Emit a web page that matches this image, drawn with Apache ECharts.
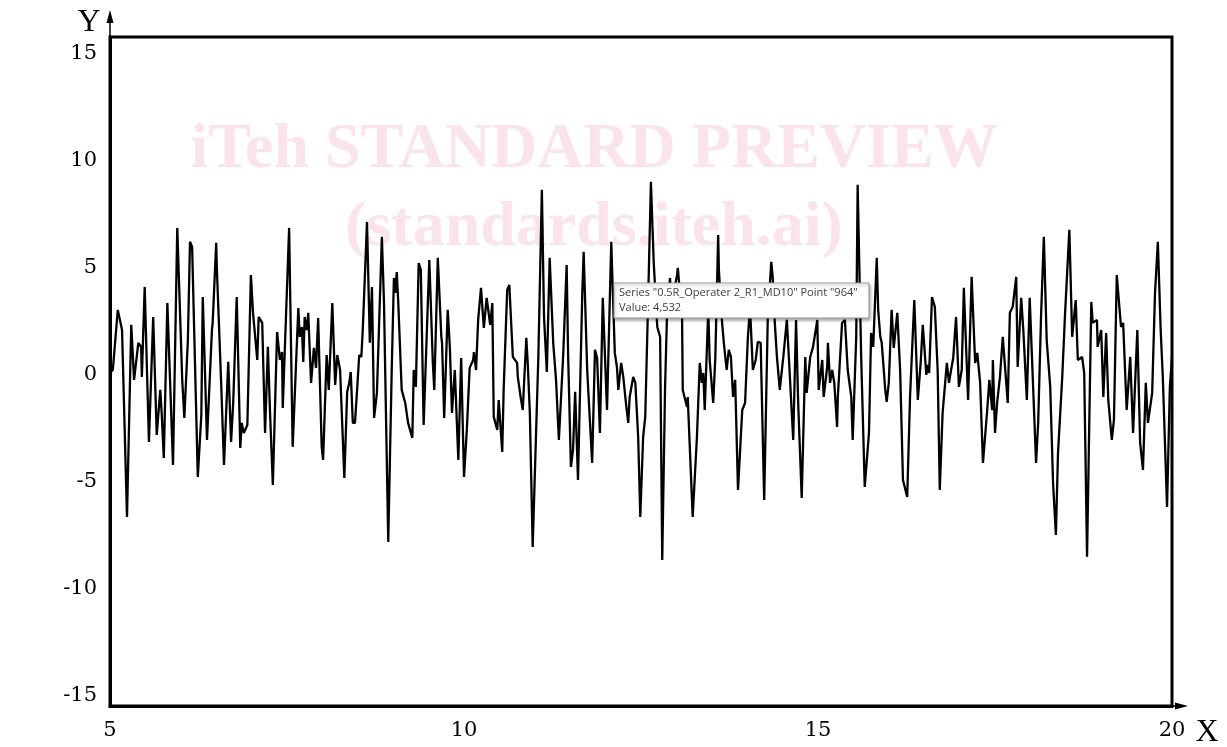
<!DOCTYPE html>
<html><head><meta charset="utf-8">
<script src="https://cdn.jsdelivr.net/npm/echarts@6/dist/echarts.min.js"></script>
<style>html,body{margin:0;padding:0;background:#fff}#c{width:1227px;height:747px}</style>
</head><body><div id="c"></div>
<script>
const xs = [5.01,5.04,5.11,5.17,5.24,5.30,5.34,5.40,5.44,5.45,5.49,5.55,5.61,5.66,5.71,5.73,5.76,5.81,5.89,5.95,6.02,6.05,6.10,6.13,6.16,6.24,6.29,6.31,
6.37,6.44,6.45,6.50,6.51,6.57,6.61,6.67,6.71,6.74,6.79,6.84,6.86,6.89,6.94,6.99,7.02,7.08,7.10,7.15,7.19,7.23,7.26,7.30,7.36,7.40,7.43,7.44,7.53,7.58,7.66,
7.68,7.71,7.73,7.75,7.78,7.80,7.84,7.88,7.91,7.94,7.99,8.01,8.06,8.09,8.14,8.18,8.21,8.25,8.31,8.35,8.38,8.40,8.43,8.46,8.49,8.52,8.55,8.57,8.63,8.67,8.70,8.73,8.77,8.84,8.87,8.93,8.98,9.01,
9.03,9.05,9.07,9.12,9.17,9.21,9.27,9.29,9.32,9.36,9.39,9.43,9.51,9.56,9.58,9.63,9.68,9.69,9.72,9.77,9.80,9.83,9.87,9.92,9.96,10.00,10.04,10.08,10.13,10.14,10.17,10.20,10.24,10.28,10.32,10.37,10.40,
10.42,10.47,10.49,10.54,10.56,10.61,10.64,10.69,10.75,10.76,10.80,10.83,10.88,10.90,10.93,10.97,11.05,11.10,11.13,11.17,11.21,11.26,11.30,11.34,11.40,11.45,11.47,11.51,11.54,11.57,11.61,11.67,
11.69,11.74,11.81,11.85,11.88,11.92,11.96,12.02,12.08,12.10,12.13,12.16,12.18,12.22,12.25,12.29,12.32,12.34,12.39,12.42,12.46,12.49,12.53,12.56,12.60,12.64,12.68,12.73,12.77,12.80,12.84,12.87,12.91,12.94,12.95,13.01,
13.02,13.08,13.09,13.15,13.16,13.22,13.23,13.29,13.33,13.36,13.38,13.40,13.45,13.47,13.52,13.55,13.59,13.60,13.64,13.67,13.71,13.74,13.77,13.80,13.83,13.87,13.93,13.97,14.01,14.04,14.08,14.12,14.15,14.19,14.24,14.29,14.34,14.36,
14.39,14.42,14.46,14.51,14.56,14.60,14.65,14.69,14.72,14.77,14.82,14.84,14.89,14.93,14.99,15.01,15.06,15.08,15.13,15.14,15.17,15.20,15.23,15.27,15.28,15.34,15.38,15.42,15.47,15.49,15.54,15.56,15.61,15.66,
15.69,15.72,15.75,15.78,15.83,15.85,15.88,15.90,15.95,15.97,16.00,16.04,16.07,16.12,16.16,16.20,16.26,16.30,16.36,16.41,16.45,16.48,16.53,16.55,16.57,16.61,16.65,16.69,16.72,16.76,16.82,16.85,16.88,16.91,16.95,16.99,17.03,17.06,
17.12,17.17,17.22,17.25,17.29,17.33,17.39,17.42,17.46,17.47,17.50,17.53,17.57,17.61,17.68,17.71,17.75,17.80,17.82,17.87,17.90,17.95,17.99,18.04,18.08,18.11,18.15,18.19,18.23,18.28,18.32,18.36,
18.39,18.45,18.49,18.55,18.59,18.64,18.67,18.73,18.76,18.80,18.86,18.88,18.94,18.95,19.00,19.03,19.07,19.10,19.15,19.18,19.22,19.28,19.31,19.36,19.41,19.45,19.51,19.55,19.59,19.63,19.66,19.72,19.76,19.80,19.84,19.87,19.93,19.97,20.00];
const ys = [0.14,0.23,3.04,2.10,-6.64,2.34,-0.23,1.50,1.31,-0.09,4.11,-3.13,2.71,-2.80,-0.70,-1.78,-3.88,3.36,-4.21,6.87,-0.23,-2.01,1.64,6.22,5.98,-4.77,-1.87,3.64,
-3.04,2.10,2.43,6.17,4.91,-0.37,-4.21,0.61,-3.13,-1.31,3.64,-3.41,-2.24,-2.71,-2.34,4.67,2.90,0.70,2.71,2.43,-2.71,1.31,-1.73,-5.14,2.01,0.70,1.07,-1.54,6.87,-3.36,3.13,
1.78,2.24,0.61,2.71,2.10,2.90,-0.37,1.26,0.33,2.66,-3.36,-3.97,0.93,-0.70,3.36,-0.47,0.93,0.23,-4.81,-0.79,-0.37,0.14,-2.24,-2.24,-0.70,0.93,0.84,2.10,7.15,1.50,4.11,-2.01,-0.84,6.45,3.36,-7.80,0.37,4.53,
3.83,4.81,3.50,-0.70,-1.31,-2.24,-2.94,0.23,-0.56,5.23,4.91,-2.34,5.37,0.56,-0.70,5.47,1.78,1.50,-2.01,3.04,1.31,-1.78,0.23,-3.97,0.79,-4.77,-2.57,0.33,0.70,1.07,0.23,2.57,4.07,2.20,3.60,2.34,3.36,
-1.96,-2.57,-1.17,-3.60,-0.70,3.97,4.21,0.84,0.56,-0.09,-1.03,-1.64,1.73,0.56,-1.78,-8.04,0.84,8.65,2.71,0.14,5.47,1.50,-0.23,-3.04,0.84,5.14,1.03,-4.30,-3.50,-0.79,-4.91,3.74,
5.75,0.23,-4.11,1.17,0.79,-2.71,3.60,-1.64,6.22,4.11,1.03,0.37,-0.70,0.56,-0.09,-1.40,-2.24,-1.03,-0.09,-0.37,-2.90,-6.64,-2.90,-1.96,3.36,9.02,5.23,2.24,1.78,-8.65,-0.56,3.13,4.53,2.71,3.64,4.67,
5.00,2.66,-0.70,-1.50,-1.03,-5.84,-6.64,-2.90,0.56,-0.37,0.09,-1.64,3.04,0.70,-1.31,0.84,6.54,4.91,2.66,1.50,0.23,1.17,0.84,-1.03,-0.23,-5.37,-1.64,-1.31,1.78,3.13,0.23,0.70,1.54,1.50,-5.84,2.57,5.28,4.58,
2.43,0.84,-0.70,0.84,2.57,0.09,-3.04,2.57,-1.31,-5.75,0.84,-0.84,0.84,1.31,2.57,-0.70,0.70,-1.03,0.37,1.50,-0.37,0.23,-0.37,-2.43,-1.03,2.43,2.57,0.23,-1.03,-3.04,1.78,8.88,0.84,-5.23,
-3.97,-2.71,1.96,1.31,5.47,3.04,1.78,1.50,-0.70,-1.26,-0.37,3.04,1.26,2.90,0.23,-4.91,-5.70,-1.03,3.50,-1.17,0.56,2.34,0.00,0.47,0.09,3.64,3.18,0.23,-5.37,-1.78,0.56,-0.37,0.23,0.79,2.71,-0.56,0.23,4.07,
-1.17,4.58,0.56,1.03,-0.37,-4.11,-1.64,-0.23,-1.64,0.70,-2.71,-1.31,-0.09,1.78,-1.31,2.90,3.18,4.58,0.37,3.60,2.10,-1.17,3.60,-0.70,-4.11,-2.24,2.71,6.45,1.64,-0.56,-5.05,-7.48,
-3.64,-0.09,2.90,6.78,1.78,3.50,0.70,0.84,0.09,-8.50,3.41,2.43,2.57,1.31,2.10,-1.03,1.96,-1.17,-3.04,-2.10,4.67,2.24,2.43,-1.64,0.84,-2.71,2.10,-3.18,-4.44,-0.37,-2.24,-0.84,3.83,6.22,2.10,-0.09,-6.17,-0.56,0.84];
const yTickValues = [-15, -10, -5, 0, 5, 10, 15];
const xTickInterval = 5;
const tooltipLine1 = 'Series "0.5R_Operater 2_R1_MD10" Point "964"';
const tooltipLine2 = 'Value: 4,532';

const chart = echarts.init(document.getElementById('c'));
const serif = '"DejaVu Serif", "Liberation Serif", serif';
chart.setOption({
  animation: false,
  backgroundColor: '#fff',
  grid: { left: 110, right: 55, top: 37, bottom: 41, show: true, borderColor: '#000', borderWidth: 3, outerBoundsMode: 'none' },
  xAxis: {
    type: 'value', min: 5, max: 20, interval: xTickInterval,
    axisLine: { show: true, onZero: false, lineStyle: { color: '#000', width: 3 } },
    axisTick: { show: false }, splitLine: { show: false },
    axisLabel: { color: '#000', fontFamily: serif, fontSize: 21, margin: 14 }
  },
  yAxis: {
    type: 'value', min: -15.47, max: 15.79,
    axisLine: { show: true, onZero: false, lineStyle: { color: '#000', width: 3 } },
    axisTick: { show: false }, splitLine: { show: false },
    axisLabel: { color: '#000', fontFamily: serif, fontSize: 21, margin: 13, padding: [6, 0, 0, 0], customValues: yTickValues }
  },
  graphic: [
    { type: 'text', z: 0, style: { text: 'iTeh STANDARD PREVIEW', x: 594, y: 150, align: 'center', verticalAlign: 'middle', font: 'bold 64px "Liberation Serif", serif', fill: '#fae4ea' } },
    { type: 'text', z: 0, style: { text: '(standards.iteh.ai)', x: 594, y: 228, align: 'center', verticalAlign: 'middle', font: 'bold 64px "Liberation Serif", serif', fill: '#fae4ea' } },
    { type: 'line', z: 50, shape: { x1: 110, y1: 37, x2: 110, y2: 18 }, style: { stroke: '#000', lineWidth: 1.5 } },
    { type: 'polygon', z: 50, shape: { points: [[110, 10], [106.5, 23], [113.5, 23]] }, style: { fill: '#000' } },
    { type: 'line', z: 50, shape: { x1: 1172, y1: 706, x2: 1180, y2: 706 }, style: { stroke: '#000', lineWidth: 1.5 } },
    { type: 'polygon', z: 50, shape: { points: [[1188, 706], [1175, 702.5], [1175, 709.5]] }, style: { fill: '#000' } },
    { type: 'text', z: 50, style: { text: 'Y', x: 89, y: 23, align: 'center', verticalAlign: 'middle', font: '32px "Liberation Serif", serif', fill: '#000' } },
    { type: 'text', z: 50, style: { text: 'X', x: 1207, y: 733, align: 'center', verticalAlign: 'middle', font: '32px "Liberation Serif", serif', fill: '#000' } },
    { type: 'group', z: 100, children: [
      { type: 'rect', z: 100, shape: { x: 614, y: 283, width: 255, height: 35 }, style: { fill: '#fff', stroke: '#9a9a9a', lineWidth: 1, shadowBlur: 3, shadowOffsetX: 1, shadowOffsetY: 2, shadowColor: 'rgba(0,0,0,0.35)' } },
      { type: 'text', z: 101, style: { text: tooltipLine1, x: 619, y: 293, verticalAlign: 'middle', font: '11px "Open Sans", "Noto Sans", sans-serif', fill: '#3c3c3c' } },
      { type: 'text', z: 101, style: { text: tooltipLine2, x: 619, y: 308, verticalAlign: 'middle', font: '11px "Open Sans", "Noto Sans", sans-serif', fill: '#3c3c3c' } }
    ] }
  ],
  series: [{
    type: 'line', showSymbol: false, z: 10,
    lineStyle: { color: '#000', width: 2.3 },
    data: xs.map((x, i) => [x, ys[i]])
  }]
});
</script>
</body></html>
